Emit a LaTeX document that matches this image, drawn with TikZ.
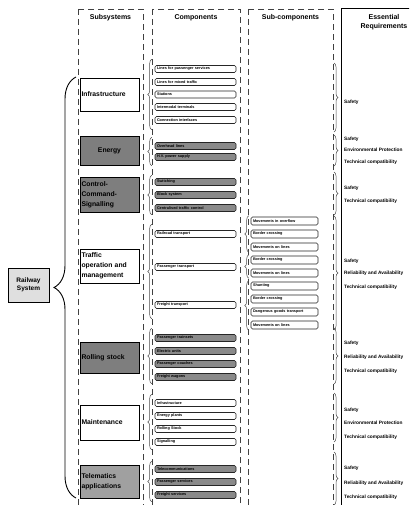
\documentclass[tikz,border=0pt]{standalone}
\usepackage{fontspec}
\setmainfont{Liberation Sans}
\usetikzlibrary{decorations.pathreplacing}
\definecolor{boxdark}{HTML}{7E7E7E}
\definecolor{boxlight}{HTML}{A0A0A0}
\definecolor{bargray}{HTML}{8A8A8A}
\begin{document}
\begin{tikzpicture}[x=1pt,y=-1pt,
  column/.style={draw=black!75, line width=0.6pt, dash pattern=on 6pt off 4pt},
  head/.style={font=\fontsize{7}{8.5}\selectfont\bfseries, align=center, inner sep=0pt},
  subsys/.style={draw=black, line width=0.8pt, minimum width=59pt, text width=56pt, inner xsep=1.5pt,
    align=left, font=\fontsize{6.8}{10}\selectfont\bfseries},
  comp/.style={draw=black!85, line width=0.55pt, rounded corners=1.5pt, minimum height=7pt,
    text width=77pt, inner xsep=2pt, inner ysep=0pt, align=left, fill=white,
    font=\fontsize{3.8}{4.2}\selectfont\bfseries},
  compg/.style={comp, fill=bargray},
  subcomp/.style={comp, minimum height=8pt, text width=63pt},
  req/.style={anchor=west, inner sep=0pt, font=\fontsize{4.8}{5.5}\selectfont\bfseries},
  brc/.style={decorate, decoration={brace, amplitude=4pt}, draw=black!70, line width=0.5pt},
  bigbrc/.style={decorate, decoration={brace, amplitude=22pt}, draw=black, line width=0.9pt}
]
\useasboundingbox (0,0) rectangle (409,505);
\clip (0,0) rectangle (409,505);

% column frames
\draw[column] (78,9) rectangle (143,512);
\draw[column] (152,9) rectangle (240,512);
\draw[column] (248,9) rectangle (333,512);
\draw[draw=black, line width=0.9pt] (341,8) rectangle (425,512);

% column headings
\node[head] (hSub) at (110.5,18) {Subsystems};
\node[head] (hComp) at (196,18) {Components};
\node[head] (hSc) at (290.5,18) {Sub-components};
\node[head] (hReq) at (384,22) {Essential\\Requirements};

% whole system
\node[draw=black, line width=0.8pt, fill=gray!25, minimum width=41pt, minimum height=34pt,
  align=center, font=\fontsize{6.5}{8.5}\selectfont\bfseries, inner sep=0pt] (rail) at (28.5,285) {Railway\\System};

% subsystems
\node[subsys, minimum height=33pt] (sInf) at (109.5,94.5) {Infrastructure};
\node[subsys, minimum height=29pt, fill=boxdark, align=center] (sEn) at (109.5,150.5) {Energy};
\node[subsys, minimum height=35pt, fill=boxdark] (sCcs) at (109.5,194.5) {Control-\\Command-\\Signalling};
\node[subsys, minimum height=34pt] (sTr) at (109.5,266) {Traffic\\operation and\\management};
\node[subsys, minimum height=31pt, fill=boxdark] (sRs) at (109.5,357.5) {Rolling stock};
\node[subsys, minimum height=35pt] (sMa) at (109.5,422.5) {Maintenance};
\node[subsys, minimum height=33pt, fill=boxlight] (sTe) at (109.5,481.5) {Telematics\\applications};

\draw[bigbrc] (76,498) -- (76,77);

% components
\node[comp] (i1) at (195.5,69) {Lines for passenger services};
\node[comp] (i2) at (195.5,82) {Lines for mixed traffic};
\node[comp] (i3) at (195.5,94.5) {Stations};
\node[comp] (i4) at (195.5,107) {Intermodal terminals};
\node[comp] (i5) at (195.5,120) {Connection interfaces};

\node[compg] (e1) at (195.5,146) {Overhead lines};
\node[compg] (e2) at (195.5,157) {H.V. power supply};

\node[compg] (c1) at (195.5,182) {Switching};
\node[compg] (c2) at (195.5,195) {Block system};
\node[compg] (c3) at (195.5,208) {Centralised traffic control};

\node[comp] (t1) at (195.5,234) {Railroad transport};
\node[comp] (t2) at (195.5,267) {Passenger transport};
\node[comp] (t3) at (195.5,305) {Freight transport};

\node[compg] (r1) at (195.5,338) {Passenger trainsets};
\node[compg] (r2) at (195.5,351) {Electric units};
\node[compg] (r3) at (195.5,364) {Passenger coaches};
\node[compg] (r4) at (195.5,377) {Freight wagons};

\node[comp] (m1) at (195.5,403) {Infrastructure};
\node[comp] (m2) at (195.5,416) {Energy plants};
\node[comp] (m3) at (195.5,429) {Rolling Stock};
\node[comp] (m4) at (195.5,442) {Signalling};

\node[compg] (g1) at (195.5,469) {Telecommunications};
\node[compg] (g2) at (195.5,482) {Passenger services};
\node[compg] (g3) at (195.5,495) {Freight services};

% sub-components
\node[subcomp] (p1) at (284.5,221) {Movements in overflow};
\node[subcomp] (p2) at (284.5,234) {Border crossing};
\node[subcomp] (p3) at (284.5,247) {Movements on lines};
\node[subcomp] (p4) at (284.5,260) {Border crossing};
\node[subcomp] (p5) at (284.5,273) {Movements on lines};
\node[subcomp] (p6) at (284.5,286) {Shunting};
\node[subcomp] (p7) at (284.5,299) {Border crossing};
\node[subcomp] (p8) at (284.5,312) {Dangerous goods transport};
\node[subcomp] (p9) at (284.5,325) {Movements on lines};

% braces: subsystem -> components
\draw[brc] ([shift={(-3pt,-6pt)}]i5.south west) -- ([shift={(-3pt,6pt)}]i1.north west);
\draw[brc] ([shift={(-3pt,-5pt)}]e2.south west) -- ([shift={(-3pt,5pt)}]e1.north west);
\draw[brc] ([shift={(-3pt,-3pt)}]c3.south west) -- ([shift={(-3pt,3pt)}]c1.north west);
\draw[brc] ([shift={(-3pt,-10pt)}]t3.south west) -- ([shift={(-3pt,6pt)}]t1.north west);
\draw[brc] ([shift={(-3pt,-3pt)}]r4.south west) -- ([shift={(-3pt,6pt)}]r1.north west);
\draw[brc] ([shift={(-3pt,-4pt)}]m4.south west) -- ([shift={(-3pt,5pt)}]m1.north west);
\draw[brc] ([shift={(-3pt,-3pt)}]g3.south west) -- ([shift={(-3pt,4pt)}]g1.north west);

% braces: components -> sub-components
\draw[brc] ([shift={(-2pt,-1pt)}]p3.south west) -- ([shift={(-2pt,1pt)}]p1.north west);
\draw[brc] ([shift={(-2pt,-1pt)}]p5.south west) -- ([shift={(-2pt,1pt)}]p4.north west);
\draw[brc] ([shift={(-2pt,-1pt)}]p9.south west) -- ([shift={(-2pt,1pt)}]p6.north west);

% essential requirements
\node[req] (q1a) at (344,102) {Safety};

\node[req] (q2a) at (344,139) {Safety};
\node[req] (q2b) at (344,150) {Environmental Protection};
\node[req] (q2c) at (344,162) {Technical compatibility};

\node[req] (q3a) at (344,188) {Safety};
\node[req] (q3b) at (344,201) {Technical compatibility};

\node[req] (q4a) at (344,261) {Safety};
\node[req] (q4b) at (344,273) {Reliability and Availability};
\node[req] (q4c) at (344,287) {Technical compatibility};

\node[req] (q5a) at (344,343) {Safety};
\node[req] (q5b) at (344,357) {Reliability and Availability};
\node[req] (q5c) at (344,371) {Technical compatibility};

\node[req] (q6a) at (344,410) {Safety};
\node[req] (q6b) at (344,423) {Environmental Protection};
\node[req] (q6c) at (344,437) {Technical compatibility};

\node[req] (q7a) at (344,468) {Safety};
\node[req] (q7b) at (344,483) {Reliability and Availability};
\node[req] (q7c) at (344,497) {Technical compatibility};

% braces: sub-system groups -> requirements
\coordinate (b1t) at (334,63);  \coordinate (b1b) at (334,132);
\coordinate (b2t) at (334,135); \coordinate (b2b) at (334,166);
\coordinate (b3t) at (334,172); \coordinate (b3b) at (334,215);
\coordinate (b4t) at (334,216); \coordinate (b4b) at (334,330);
\coordinate (b5t) at (334,328); \coordinate (b5b) at (334,384);
\coordinate (b6t) at (334,393); \coordinate (b6b) at (334,442);
\coordinate (b7t) at (334,452); \coordinate (b7b) at (334,505);
\foreach \k in {1,...,7}{
  \draw[brc] (b\k t) -- (b\k b);
}
\end{tikzpicture}
\end{document}
